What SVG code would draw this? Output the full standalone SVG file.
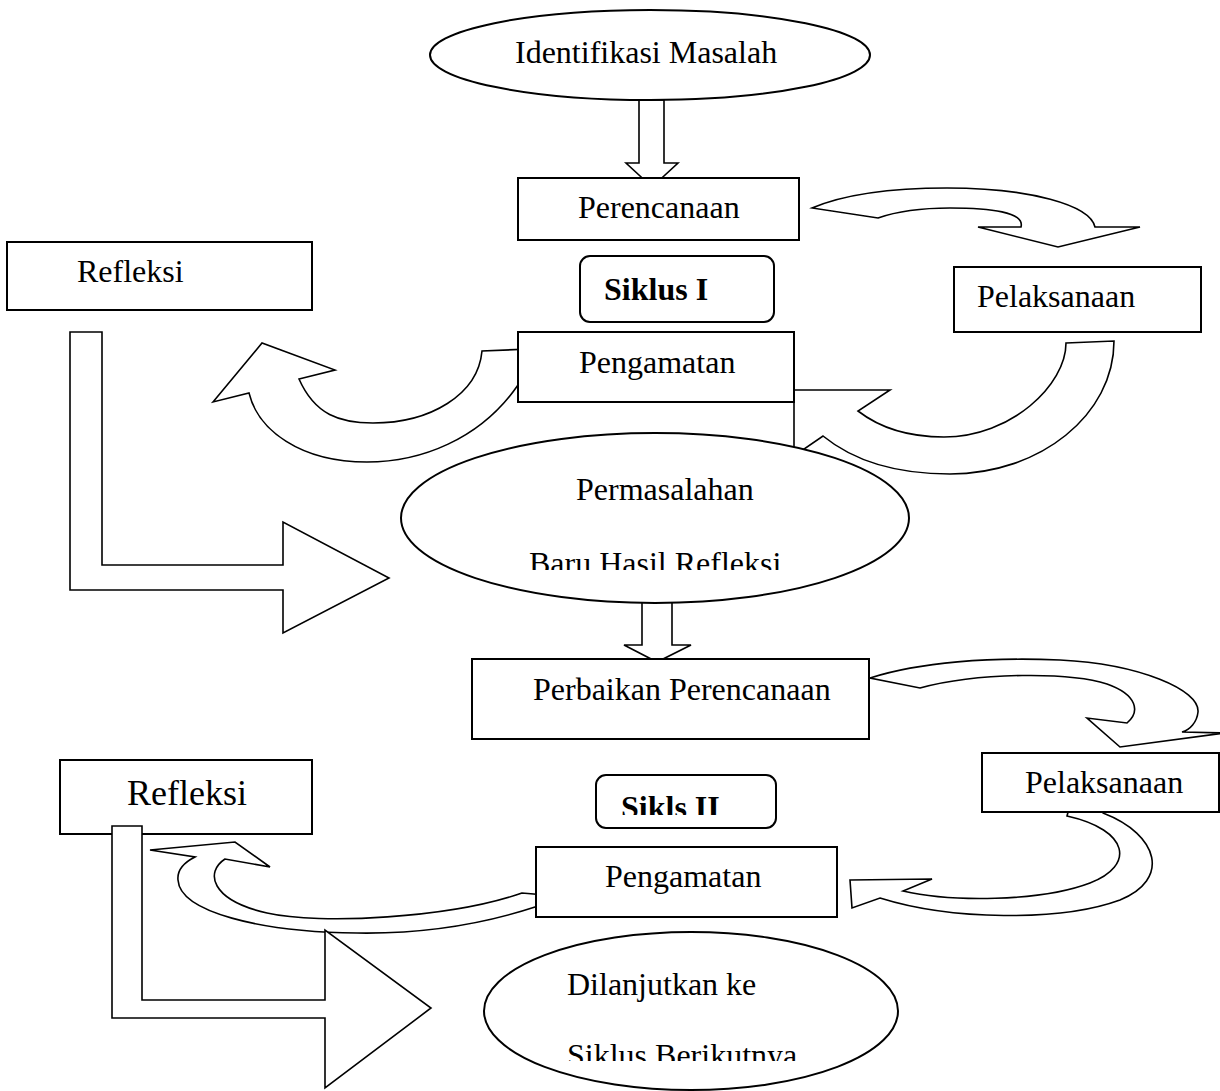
<svg xmlns="http://www.w3.org/2000/svg" width="1220" height="1091" viewBox="0 0 1220 1091">
<style>
.box{fill:#fff;stroke:#000;stroke-width:2}
.open{fill:none;stroke:#000;stroke-width:2}
.arr{fill:#fff;stroke:#000;stroke-width:1.6;stroke-linejoin:miter}
.t{font-family:"Liberation Serif","Times New Roman",serif;font-size:32px;fill:#000}
.b{font-weight:bold}
</style>
<defs>
<clipPath id="c1"><rect x="400" y="540" width="520" height="30"/></clipPath>
<clipPath id="c2"><rect x="590" y="780" width="190" height="35"/></clipPath>
<clipPath id="c3"><rect x="480" y="1030" width="420" height="31"/></clipPath>
</defs>
<rect width="1220" height="1091" fill="#fff"/>
<g id="connectors">
<polygon class="arr" points="639,100 664,100 664,163 678,163 652,187 626,163 639,163"/>
<path class="arr" d="M812,208 C850,192 900,188 947,188 C1030,188 1090,205 1095,227 L1140,227 L1058,247 L978,227 L1021,227 C1025,212 990,208 950,208 C920,208 895,212 878,218 Z"/>
<path class="arr" d="M1066,343 L1114,341 C1114,415 1040,474 950,474 C890,474 850,458 823,436 L794,456 L794,390 L890,390 L858,411 C880,428 910,437 944,437 C1011,437 1066,385 1066,343 Z"/>
<path class="arr" d="M213,402 L262,343 L335,370 L299,379 C315,415 340,423 373,423 C430,423 478,395 482,351 L530,349 L530,380 L518,385 C480,440 420,462 367,462 C300,462 258,430 249,393 Z"/>
<polygon class="arr" points="70,332 102,332 102,565 283,565 283,522 389,578 283,633 283,590 70,590"/>
<polygon class="arr" points="642,598 672,598 672,645 691,645 657,662 624,645 642,645"/>
<path class="arr" d="M870,678 C920,662 990,657 1060,660 C1140,664 1200,690 1198,712 C1197,722 1190,730 1182,732 L1225,733 L1120,747 L1087,718 L1127,723 C1140,712 1138,695 1107,684 C1070,672 980,672 920,688 Z"/>
<path class="arr" d="M850,880 L932,879 L903,891 C950,902 1040,902 1090,883 C1135,866 1130,830 1067,816 L1070,805 L1100,805 L1103,813 C1160,835 1170,880 1120,900 C1060,922 950,920 880,898 L852,908 Z"/>
<path class="arr" d="M150,850 L235,842 L270,867 L225,859 C205,872 210,900 267,913 C320,925 450,918 522,893 L545,895 L545,905 L535,907 C480,925 420,934 357,933 C260,932 180,912 178,880 C177,870 185,862 195,857 Z"/>
<polygon class="arr" points="112,826 142,826 142,1000 325,1000 325,930 431,1008 325,1088 325,1018 112,1018"/>
</g>
<g id="n-identifikasi">
<ellipse class="box" cx="650" cy="55" rx="220" ry="45"/>
<text class="t" x="515" y="63">Identifikasi Masalah</text>
</g>
<g id="n-perencanaan">
<rect class="box" x="518" y="178" width="281" height="62"/>
<text class="t" x="578" y="218">Perencanaan</text>
</g>
<g id="n-siklus1">
<rect class="box" x="580" y="256" width="194" height="66" rx="10"/>
<text class="t b" x="604" y="300">Siklus I</text>
</g>
<g id="n-refleksi1">
<rect class="box" x="7" y="242" width="305" height="68"/>
<text class="t" x="77" y="282">Refleksi</text>
</g>
<g id="n-pelaksanaan1">
<rect class="box" x="954" y="267" width="247" height="65"/>
<text class="t" x="977" y="307">Pelaksanaan</text>
</g>
<g id="n-pengamatan1">
<rect class="box" x="518" y="332" width="276" height="70"/>
<text class="t" x="579" y="373">Pengamatan</text>
</g>
<g id="n-permasalahan">
<ellipse class="box" cx="655" cy="518" rx="254" ry="85"/>
<text class="t" x="576" y="500">Permasalahan</text>
<text class="t" x="529" y="574" clip-path="url(#c1)">Baru Hasil Refleksi</text>
</g>
<g id="n-perbaikan">
<rect class="box" x="472" y="659" width="397" height="80"/>
<text class="t" x="533" y="700">Perbaikan Perencanaan</text>
</g>
<g id="n-siklus2">
<rect class="box" x="596" y="775" width="180" height="53" rx="10"/>
<text class="t b" x="621" y="818" clip-path="url(#c2)">Sikls II</text>
</g>
<g id="n-pelaksanaan2">
<rect class="box" x="982" y="753" width="237" height="59"/>
<text class="t" x="1025" y="793">Pelaksanaan</text>
</g>
<g id="n-refleksi2">
<path class="open" d="M142,834 H312 V760 H60 V834 H112"/>
<text class="t" x="127" y="805" style="font-size:36px">Refleksi</text>
</g>
<g id="n-pengamatan2">
<rect class="box" x="536" y="847" width="301" height="70"/>
<text class="t" x="605" y="887">Pengamatan</text>
</g>
<g id="n-dilanjutkan">
<ellipse class="box" cx="691" cy="1011" rx="207" ry="79"/>
<text class="t" x="567" y="995">Dilanjutkan ke</text>
<text class="t" x="567" y="1066" clip-path="url(#c3)">Siklus Berikutnya</text>
</g>
</svg>
